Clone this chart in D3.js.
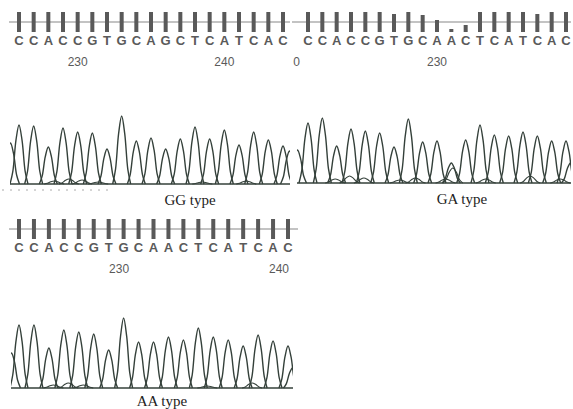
<!DOCTYPE html>
<html>
<head>
<meta charset="utf-8">
<script src="https://cdn.jsdelivr.net/npm/d3@7"></script>
<style>
  body { margin: 0; background: #fff; }
</style>
</head>
<body>
<div id="chart"></div>
<script>
// base calls of the three reads
const seqGG = ["C","C","A","C","C","G","T","G","C","A","G","C","T","C","A","T","C","A","C"];
const seqGA = ["C","C","A","C","C","G","T","G","C","A","A","C","T","C","A","T","C","A","C"];
const seqAA = ["C","C","A","C","C","G","T","G","C","A","A","C","T","C","A","T","C","A","C"];

// quality bars (1 = full bar)
const qualGG = [1,1,1,1,1,1,1,1,1,1,1,1,1,1,1,1,1,1,1];
const qualGA = [1,1,1,1,1,1,0.9,1,0.85,0.6,0.15,0.35,1,1,1,1,0.9,1,1];
const qualAA = [1,1,1,1,1,1,1,1,1,1,1,1,1,1,1,1,1,1,1];

// position tick labels (placed at base index)
const tickLabelsGG = ["230", "240"];
const tickPosGG = [4, 14];
const tickLabelsGA = ["0", "230"];
const tickPosGA = [-0.8, 9];
const tickLabelsAA = ["230", "240"];
const tickPosAA = [6.7, 17.4];

// peak heights, one per base call
const peaksGG = [59,58,37,56,52,51,35,68,43,46,35,45,57,45,54,39,52,44,38];
const peaksGA = [60,65,37,54,52,50,36,64,41,42,20,43,58,48,47,51,47,42,42];
const peaksAA = [63,63,40,58,56,54,38,70,46,46,51,48,60,51,48,42,53,47,42];

// small background peaks: [base index, height]
const minorGG = [[2.4,3],[3.4,5],[4.3,4],[5.4,2],[12.5,2],[15.5,3]];
const minorGA = [[1.9,4],[2.9,7],[3.9,5],[6.4,3],[7.5,5],[9.6,4],[10.1,15],[12.4,4],[15.5,7],[17.6,4]];
const minorAA = [[2.3,3],[3.3,5],[4.3,3],[12.6,2],[15.6,5]];

// partial peaks cut at the left / right edge of each trace
const edgeGG = [41, 33];
const edgeGA = [33, 20];
const edgeAA = [35, 20];

const labels = ["GG type", "GA type", "AA type"];

const W = 573, H = 409;
const svg = d3.select("#chart").append("svg")
  .attr("width", W)
  .attr("height", H)
  .style("display", "block");

const ink = "#5a5a5a";
const traceCol = "#34403a";

function drawPanel(p) {
  const g = svg.append("g");
  const x = d3.scaleLinear().domain([0, 18]).range(p.range);

  // base-call track
  g.append("line")
    .attr("x1", p.lineX[0]).attr("x2", p.lineX[1])
    .attr("y1", p.trackY).attr("y2", p.trackY)
    .attr("stroke", "#888").attr("stroke-width", 1.2);

  const q = d3.scaleLinear().domain([0, 1]).range([p.trackY + 10, p.trackY - 10]);
  g.selectAll("rect.bar")
    .data(p.qual)
    .join("rect")
    .attr("class", "bar")
    .attr("x", (d, i) => x(i) - 2)
    .attr("y", d => q(d))
    .attr("width", 4)
    .attr("height", d => Math.max(2, q(0) - q(d)))
    .attr("fill", "#595959");

  g.selectAll("text.base")
    .data(p.seq)
    .join("text")
    .attr("class", "base")
    .attr("x", (d, i) => x(i))
    .attr("y", p.trackY + 23)
    .attr("text-anchor", "middle")
    .attr("font-family", "Liberation Sans, Arial, sans-serif")
    .attr("font-size", 13)
    .attr("font-weight", "bold")
    .attr("fill", ink)
    .text(d => d);

  g.selectAll("text.pos")
    .data(p.ticks)
    .join("text")
    .attr("class", "pos")
    .attr("x", (d, i) => x(p.tickPos[i]))
    .attr("y", p.trackY + 44)
    .attr("text-anchor", "middle")
    .attr("font-family", "Liberation Sans Narrow, Liberation Sans, Arial, sans-serif")
    .attr("font-size", 12)
    .attr("fill", ink)
    .text(d => d);

  // chromatogram
  const y = d3.scaleLinear().domain([0, 70]).range([p.base, p.base - 70]);
  const clipId = "clip" + p.id;
  svg.append("clipPath").attr("id", clipId)
    .append("rect")
    .attr("x", p.traceX[0]).attr("y", p.base - 80)
    .attr("width", p.traceX[1] - p.traceX[0]).attr("height", 84);

  const tg = g.append("g").attr("clip-path", `url(#${clipId})`);
  const peakLine = d3.line().x(d => d[0]).y(d => d[1]).curve(d3.curveCatmullRom.alpha(0.5));
  // bell outline around one peak
  const shape = (cx, h, hw) => [
    [cx - hw, y(0)], [cx - hw * 0.68, y(h * 0.22)], [cx - hw * 0.34, y(h * 0.74)], [cx, y(h)],
    [cx + hw * 0.34, y(h * 0.74)], [cx + hw * 0.68, y(h * 0.22)], [cx + hw, y(0)]
  ];

  tg.append("line")
    .attr("x1", p.traceX[0]).attr("x2", p.traceX[1])
    .attr("y1", y(0)).attr("y2", y(0))
    .attr("stroke", traceCol).attr("stroke-width", 1.6);

  p.minor.forEach(m => {
    tg.append("path")
      .attr("d", peakLine(shape(x(m[0]), m[1], 10)))
      .attr("fill", "none").attr("stroke", traceCol).attr("stroke-width", 1.1);
  });

  const edges = [[p.traceX[0] + 0.5, p.edge[0]], [p.traceX[1] - 0.5, p.edge[1]]];
  edges.forEach(e => {
    tg.append("path")
      .attr("d", peakLine(shape(e[0], e[1], 9)))
      .attr("fill", "none").attr("stroke", traceCol).attr("stroke-width", 1.4);
  });

  p.peaks.forEach((h, i) => {
    tg.append("path")
      .attr("d", peakLine(shape(x(i), h, 9)))
      .attr("fill", "none").attr("stroke", traceCol).attr("stroke-width", 1.4);
  });

  g.append("text")
    .attr("x", p.labelX)
    .attr("y", p.labelY)
    .attr("text-anchor", "middle")
    .attr("font-family", "Liberation Serif, Times New Roman, serif")
    .attr("font-size", 15)
    .attr("fill", "#222")
    .text(p.label);
}

drawPanel({
  id: 1, seq: seqGG, qual: qualGG, ticks: tickLabelsGG, tickPos: tickPosGG,
  peaks: peaksGG, minor: minorGG, edge: edgeGG, label: labels[0],
  range: [19, 283], lineX: [9, 290], trackY: 22,
  base: 184, traceX: [10, 290], labelX: 190, labelY: 205
});
drawPanel({
  id: 2, seq: seqGA, qual: qualGA, ticks: tickLabelsGA, tickPos: tickPosGA,
  peaks: peaksGA, minor: minorGA, edge: edgeGA, label: labels[1],
  range: [308, 566], lineX: [292, 571], trackY: 22,
  base: 183, traceX: [297, 571], labelX: 462, labelY: 204
});
drawPanel({
  id: 3, seq: seqAA, qual: qualAA, ticks: tickLabelsAA, tickPos: tickPosAA,
  peaks: peaksAA, minor: minorAA, edge: edgeAA, label: labels[2],
  range: [19, 288], lineX: [9, 298], trackY: 229,
  base: 388, traceX: [11, 293], labelX: 162, labelY: 406
});

// faint specks under the first trace
svg.append("line")
  .attr("x1", 2).attr("x2", 112)
  .attr("y1", 190).attr("y2", 190)
  .attr("stroke", "#aaa").attr("stroke-width", 1)
  .attr("stroke-dasharray", "2,6");
</script>
</body>
</html>
